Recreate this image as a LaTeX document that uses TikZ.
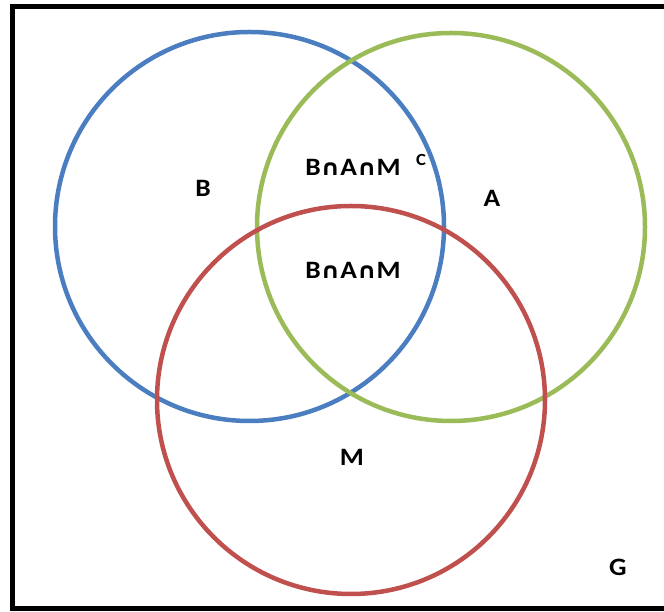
\documentclass[tikz,border=0pt]{standalone}
\usepackage{fontspec}
\setmainfont{Carlito}
\newfontfamily\symfont{DejaVu Sans}
\definecolor{vblue}{RGB}{74,126,193}
\definecolor{vgreen}{RGB}{155,187,89}
\definecolor{vred}{RGB}{192,80,77}
\newcommand{\capop}{{\symfont\fontsize{22}{26}\selectfont\bfseries ∩}}
\begin{document}
\begin{tikzpicture}[x=1pt,y=1pt,
  setcircle/.style={line width=4.5pt},
  lab/.style={font=\fontsize{25}{30}\selectfont\bfseries, inner sep=0pt, xscale=1.1}]
\useasboundingbox (0,0) rectangle (664,612);
\clip (0,0) rectangle (664,612);
\fill[white] (0,0) rectangle (664,612);
\draw[line width=5pt] (680,605) -- (12,605) -- (12,3) -- (680,3);
\draw[setcircle, vblue] (249.5,385.5) circle (194.5);
\draw[setcircle, vgreen] (451,385) circle (194);
\draw[setcircle, vred] (351,212) circle (194);
\node[lab] (b) at (203,424) {B};
\node[lab] (a) at (492,414) {A};
\node[lab] (bamc) at (353,445) {B\capop A\capop M};
\node[lab, font=\fontsize{17}{20}\selectfont\bfseries] (c) at (421,452) {C};
\node[lab] (bam) at (353,342) {B\capop A\capop M};
\node[lab] (m) at (352,155) {M};
\node[lab] (g) at (618,45) {G};
\end{tikzpicture}
\end{document}
